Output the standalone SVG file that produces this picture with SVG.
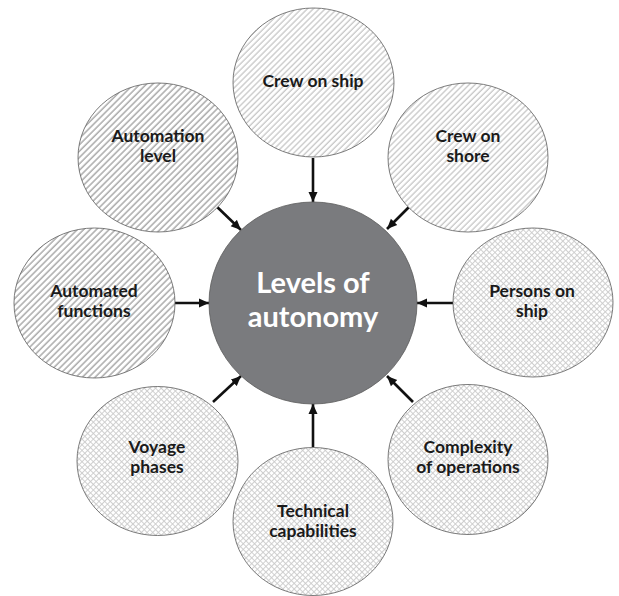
<svg xmlns="http://www.w3.org/2000/svg" width="619" height="596" viewBox="0 0 619 596">
<style>
.node{stroke:#5a5a5a;stroke-width:0.8}
.lbl{font-family:Lato,"Open Sans",sans-serif;font-weight:bold;font-size:17.5px;fill:#1a1a1a;text-anchor:middle}
.ctr{font-family:Lato,"Open Sans",sans-serif;font-weight:bold;font-size:29px;fill:#ffffff;text-anchor:middle}
.conn line{stroke:#111;stroke-width:2.6;marker-end:url(#ah)}
</style>
<defs>
<pattern id="hatchDark" patternUnits="userSpaceOnUse" width="4.5" height="4.5" patternTransform="rotate(45)">
<rect width="4.5" height="4.5" fill="#fff"/>
<line x1="1" y1="0" x2="1" y2="4.5" stroke="#9e9e9e" stroke-width="1.3"/>
</pattern>
<pattern id="hatchLight" patternUnits="userSpaceOnUse" width="4.2" height="4.2" patternTransform="rotate(45)">
<rect width="4.2" height="4.2" fill="#fff"/>
<line x1="1" y1="0" x2="1" y2="4.2" stroke="#cacaca" stroke-width="1.4"/>
</pattern>
<pattern id="cross" patternUnits="userSpaceOnUse" width="4" height="4" patternTransform="rotate(45)">
<rect width="4" height="4" fill="#fff"/>
<line x1="0.5" y1="0" x2="0.5" y2="4" stroke="#cbcbcb" stroke-width="0.9"/>
<line x1="0" y1="0.5" x2="4" y2="0.5" stroke="#cbcbcb" stroke-width="0.9"/>
</pattern>
<marker id="ah" markerUnits="userSpaceOnUse" markerWidth="11" markerHeight="10" refX="10" refY="5" orient="auto">
<path d="M0,0.5 L10,5 L0,9.5 Z" fill="#111"/>
</marker>
</defs>
<g id="connectors" class="conn">
<line x1="313" y1="158" x2="313" y2="202"/>
<line x1="313" y1="447" x2="313" y2="404"/>
<line x1="175" y1="303" x2="209" y2="303"/>
<line x1="453" y1="303" x2="417" y2="303"/>
<line x1="213" y1="203" x2="241" y2="230"/>
<line x1="413" y1="203" x2="387" y2="229"/>
<line x1="213" y1="402" x2="241" y2="376"/>
<line x1="413" y1="402" x2="387" y2="376"/>
</g>
<g id="center">
<ellipse class="node" cx="313" cy="303" rx="104" ry="101" fill="#7a7b7e"/>
<text class="ctr" x="313" y="293">Levels of</text>
<text class="ctr" x="313" y="327">autonomy</text>
</g>
<g id="crew-on-ship">
<ellipse class="node" cx="313.5" cy="82.5" rx="80.5" ry="74.5" fill="url(#hatchLight)"/>
<text class="lbl" x="313" y="87">Crew on ship</text>
</g>
<g id="crew-on-shore">
<ellipse class="node" cx="468" cy="157.5" rx="80" ry="74.5" fill="url(#hatchLight)"/>
<text class="lbl" x="468" y="142">Crew on</text>
<text class="lbl" x="468" y="162">shore</text>
</g>
<g id="persons-on-ship">
<ellipse class="node" cx="533" cy="302.5" rx="80" ry="74.5" fill="url(#cross)"/>
<text class="lbl" x="532" y="297">Persons on</text>
<text class="lbl" x="532" y="317">ship</text>
</g>
<g id="complexity">
<ellipse class="node" cx="468" cy="459.5" rx="80" ry="75" fill="url(#cross)"/>
<text class="lbl" x="468" y="453">Complexity</text>
<text class="lbl" x="468" y="473">of operations</text>
</g>
<g id="technical">
<ellipse class="node" cx="313" cy="521.5" rx="80" ry="74" fill="url(#cross)"/>
<text class="lbl" x="313" y="517">Technical</text>
<text class="lbl" x="313" y="537">capabilities</text>
</g>
<g id="voyage">
<ellipse class="node" cx="157.5" cy="461" rx="80.5" ry="74.5" fill="url(#cross)"/>
<text class="lbl" x="157" y="453">Voyage</text>
<text class="lbl" x="157" y="473">phases</text>
</g>
<g id="automated-functions">
<ellipse class="node" cx="94.5" cy="303" rx="80.5" ry="75" fill="url(#hatchDark)"/>
<text class="lbl" x="94" y="297">Automated</text>
<text class="lbl" x="94" y="317">functions</text>
</g>
<g id="automation-level">
<ellipse class="node" cx="158" cy="157.5" rx="80" ry="74.5" fill="url(#hatchDark)"/>
<text class="lbl" x="158" y="142">Automation</text>
<text class="lbl" x="158" y="162">level</text>
</g>
</svg>
